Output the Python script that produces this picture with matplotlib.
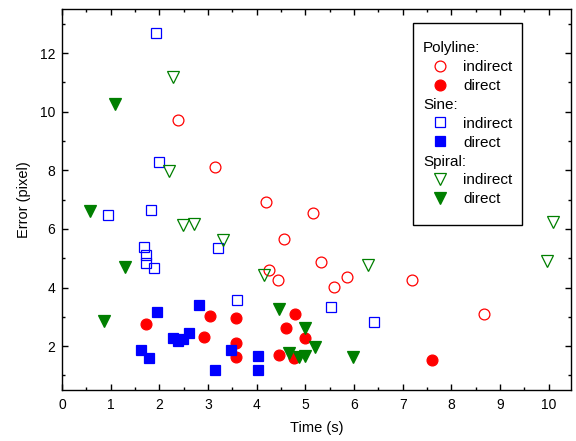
import numpy as np
import matplotlib
matplotlib.use("Agg")
import matplotlib.pyplot as plt
from matplotlib.lines import Line2D
from matplotlib.offsetbox import DrawingArea

plt.rcParams['font.family'] = ['Liberation Sans', 'DejaVu Sans']

# Polyline
poly_ind_x = [2.38, 3.14, 4.20, 5.15, 4.57, 5.32, 4.25, 4.44, 5.59, 5.85, 7.18, 8.67]
poly_ind_y = [9.72, 8.13, 6.93, 6.55, 5.67, 4.88, 4.61, 4.27, 4.01, 4.36, 4.24, 3.10]
poly_dir_x = [1.73, 2.92, 3.05, 3.58, 3.58, 3.58, 4.45, 4.61, 4.79, 5.00, 4.77, 7.61]
poly_dir_y = [2.77, 2.32, 3.02, 2.97, 2.12, 1.62, 1.69, 2.61, 3.09, 2.27, 1.60, 1.54]

# Sine
sine_ind_x = [1.94, 2.00, 0.95, 1.82, 1.69, 1.72, 1.73, 1.90, 3.20, 3.59, 5.52, 6.40]
sine_ind_y = [12.69, 8.28, 6.46, 6.63, 5.37, 5.10, 4.85, 4.67, 5.36, 3.57, 3.34, 2.81]
sine_dir_x = [1.62, 1.78, 1.95, 2.29, 2.39, 2.49, 2.61, 2.82, 3.14, 3.47, 4.02, 4.02]
sine_dir_y = [1.86, 1.60, 3.17, 2.29, 2.17, 2.25, 2.43, 3.40, 1.17, 1.85, 1.66, 1.17]

# Spiral
spir_ind_x = [2.29, 2.20, 2.49, 2.72, 3.31, 4.16, 6.28, 9.97, 10.09]
spir_ind_y = [11.18, 7.99, 6.12, 6.17, 5.63, 4.41, 4.78, 4.92, 6.23]
spir_dir_x = [1.08, 0.57, 1.30, 0.86, 4.45, 5.00, 5.20, 4.67, 4.87, 5.00, 5.98]
spir_dir_y = [10.27, 6.60, 4.70, 2.86, 3.27, 2.63, 1.98, 1.75, 1.64, 1.66, 1.64]

RED = '#ff0000'
BLUE = '#0000ff'
GREEN = '#007f00'

fig = plt.figure(figsize=(5.76, 4.41), dpi=100)
ax = fig.add_axes([0.1076, 0.1156, 0.8832, 0.8634])

ms_c, ms_s, ms_t = 7.8, 7.2, 9.0
ax.plot(poly_ind_x, poly_ind_y, 'o', ms=ms_c, mfc='none', mec=RED, mew=0.9)
ax.plot(poly_dir_x, poly_dir_y, 'o', ms=ms_c, mfc=RED, mec=RED, mew=0.9)
ax.plot(sine_ind_x, sine_ind_y, 's', ms=ms_s, mfc='none', mec=BLUE, mew=0.9)
ax.plot(sine_dir_x, sine_dir_y, 's', ms=ms_s, mfc=BLUE, mec=BLUE, mew=0.9)
ax.plot(spir_ind_x, spir_ind_y, 'v', ms=ms_t, mfc='none', mec=GREEN, mew=0.9)
ax.plot(spir_dir_x, spir_dir_y, 'v', ms=ms_t, mfc=GREEN, mec=GREEN, mew=0.9)

ax.set_xlim(0, 10.45)
ax.set_ylim(0.5, 13.5)
ax.set_xticks(np.arange(0, 11, 1))
ax.set_xticks(np.arange(0.5, 10.5, 1), minor=True)
ax.set_yticks(np.arange(2, 13, 2))
ax.set_yticks(np.arange(1, 14, 2), minor=True)
ax.tick_params(which='both', direction='in', top=True, right=True, width=1.0, labelsize=10)
ax.tick_params(which='major', length=4.5)
ax.tick_params(which='minor', length=2.5)
ax.tick_params(axis='x', pad=6)
ax.tick_params(axis='y', pad=5)
for sp in ax.spines.values():
    sp.set_linewidth(1.0)
ax.set_xlabel('Time (s)', fontsize=10.5, labelpad=6)
ax.set_ylabel('Error (pixel)', fontsize=10.5, labelpad=6)

blank = Line2D([], [], linestyle='none', marker='')
def h(m, ms, c, filled):
    return Line2D([], [], linestyle='none', marker=m, ms=ms, mec=c, mew=0.9,
                  mfc=c if filled else 'none')

headers = ['Polyline:', 'Sine:', 'Spiral:']
handles = [blank, h('o', ms_c, RED, False), h('o', ms_c, RED, True),
           blank, h('s', ms_s, BLUE, False), h('s', ms_s, BLUE, True),
           blank, h('v', ms_t, GREEN, False), h('v', ms_t, GREEN, True)]
labels = [headers[0], 'indirect', 'direct',
          headers[1], 'indirect', 'direct',
          headers[2], 'indirect', 'direct']

fs = 11
leg = ax.legend(handles, labels, loc='upper left', bbox_to_anchor=(0.690, 0.964),
                borderaxespad=0, fontsize=fs, frameon=True, fancybox=False,
                edgecolor='black', framealpha=1, handlelength=2.3,
                handletextpad=0.33, labelspacing=0.32, borderpad=0.65)
leg.get_frame().set_linewidth(1.0)
# header rows: drop the handle so the text starts at the left edge
for col in leg._legend_handle_box.get_children():
    for row in col.get_children():
        da, ta = row.get_children()
        if ta.get_text() in headers:
            da.width = 0
            row.sep = 0
# a bit of extra space above and below the entries
box = leg._legend_box
box._children = [DrawingArea(0, 2.5)] + box._children + [DrawingArea(0, 2.5)]

fig.savefig('out.png', dpi=100)
